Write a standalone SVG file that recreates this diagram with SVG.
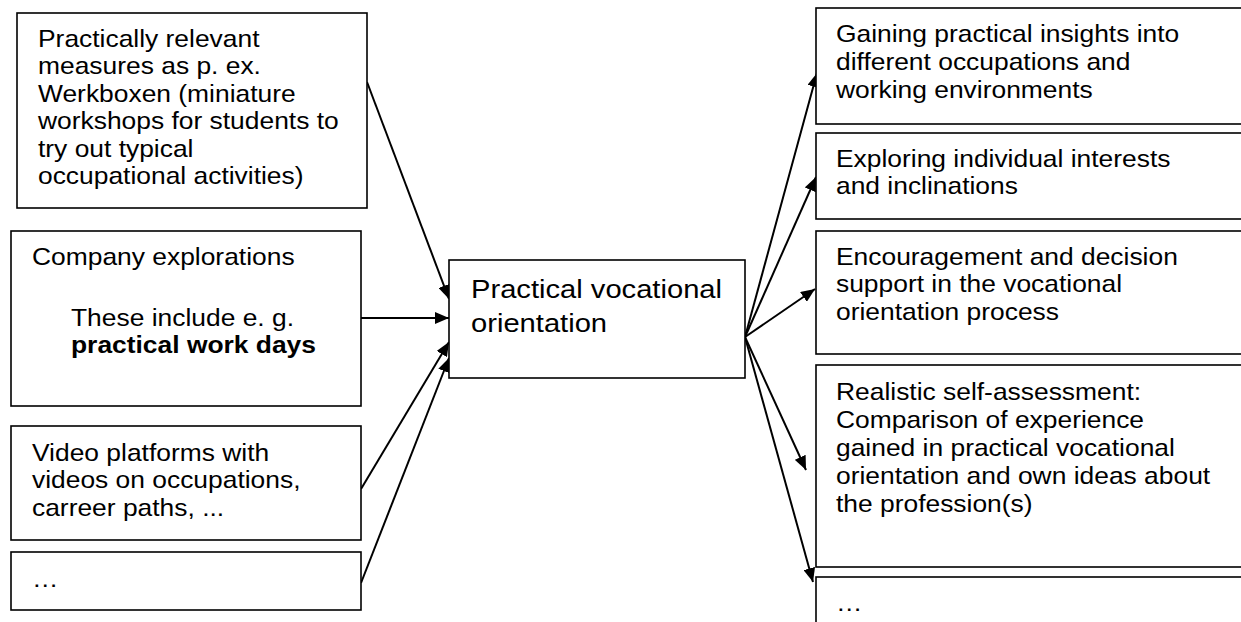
<svg xmlns="http://www.w3.org/2000/svg" width="1241" height="622" viewBox="0 0 1241 622">
<style>
.box{fill:#fff;stroke:#000;stroke-width:1.6}
.t{font-family:"Liberation Sans",Arial,sans-serif;font-size:24px;fill:#000}
.tc{font-family:"Liberation Sans",Arial,sans-serif;font-size:26.5px;fill:#000}
.b{font-weight:bold}
.c{stroke:#000;stroke-width:2;fill:none;marker-end:url(#ah)}
</style>
<defs>
<marker id="ah" markerUnits="userSpaceOnUse" markerWidth="15" markerHeight="12" refX="14" refY="6" orient="auto">
<path d="M0,0 L14,6 L0,12 z" fill="#000"/>
</marker>
</defs>
<rect width="1241" height="622" fill="#fff"/>

<g id="connectors">
<line class="c" x1="367" y1="82" x2="449" y2="299"/>
<line class="c" x1="361" y1="318" x2="449" y2="318"/>
<line class="c" x1="361" y1="489" x2="449" y2="342"/>
<line class="c" x1="361" y1="583" x2="449" y2="358"/>
<line class="c" x1="745" y1="337" x2="817" y2="73"/>
<line class="c" x1="745" y1="337" x2="816" y2="177"/>
<line class="c" x1="745" y1="337" x2="815" y2="289"/>
<line class="c" x1="745" y1="337" x2="806" y2="470"/>
<line class="c" x1="745" y1="337" x2="813" y2="582"/>
</g>

<g id="left1">
<rect class="box" x="17" y="13" width="350" height="195"/>
<text class="t" transform="translate(38,47) scale(1.1,1)">
<tspan x="0" y="0">Practically relevant</tspan>
<tspan x="0" y="27.5">measures as p. ex.</tspan>
<tspan x="0" y="55">Werkboxen (miniature</tspan>
<tspan x="0" y="82.5">workshops for students to</tspan>
<tspan x="0" y="110">try out typical</tspan>
<tspan x="0" y="137.5">occupational activities)</tspan>
</text>
</g>

<g id="left2">
<rect class="box" x="11" y="231" width="350" height="175"/>
<text class="t" transform="translate(32,265) scale(1.1,1)">Company explorations</text>
<text class="t" transform="translate(71,326) scale(1.1,1)">
<tspan x="0" y="0">These include e. g.</tspan>
<tspan class="b" x="0" y="27.5">practical work days</tspan>
</text>
</g>

<g id="left3">
<rect class="box" x="11" y="426" width="350" height="114"/>
<text class="t" transform="translate(32,461) scale(1.1,1)">
<tspan x="0" y="0">Video platforms with</tspan>
<tspan x="0" y="27.5">videos on occupations,</tspan>
<tspan x="0" y="55">carreer paths, ...</tspan>
</text>
</g>

<g id="left4">
<rect class="box" x="11" y="552" width="350" height="58"/>
<text class="t" transform="translate(32,587) scale(1.1,1)">…</text>
</g>

<g id="center">
<rect class="box" x="449" y="260" width="296" height="118"/>
<text class="tc" transform="translate(471,298) scale(1.1,1)">
<tspan x="0" y="0">Practical vocational</tspan>
<tspan x="0" y="34">orientation</tspan>
</text>
</g>

<g id="right1">
<rect class="box" x="816" y="8" width="440" height="116"/>
<text class="t" transform="translate(836,42) scale(1.1,1)">
<tspan x="0" y="0">Gaining practical insights into</tspan>
<tspan x="0" y="28">different occupations and</tspan>
<tspan x="0" y="56">working environments</tspan>
</text>
</g>

<g id="right2">
<rect class="box" x="816" y="133" width="440" height="86"/>
<text class="t" transform="translate(836,167) scale(1.1,1)">
<tspan x="0" y="0">Exploring individual interests</tspan>
<tspan x="0" y="27.5">and inclinations</tspan>
</text>
</g>

<g id="right3">
<rect class="box" x="816" y="231" width="440" height="123"/>
<text class="t" transform="translate(836,265) scale(1.1,1)">
<tspan x="0" y="0">Encouragement and decision</tspan>
<tspan x="0" y="27.5">support in the vocational</tspan>
<tspan x="0" y="55">orientation process</tspan>
</text>
</g>

<g id="right4">
<rect class="box" x="816" y="365" width="440" height="202"/>
<text class="t" transform="translate(836,400) scale(1.1,1)">
<tspan x="0" y="0">Realistic self-assessment:</tspan>
<tspan x="0" y="28">Comparison of experience</tspan>
<tspan x="0" y="56">gained in practical vocational</tspan>
<tspan x="0" y="84">orientation and own ideas about</tspan>
<tspan x="0" y="112">the profession(s)</tspan>
</text>
</g>

<g id="right5">
<rect class="box" x="816" y="577" width="440" height="60"/>
<text class="t" transform="translate(836,611) scale(1.1,1)">…</text>
</g>
</svg>
